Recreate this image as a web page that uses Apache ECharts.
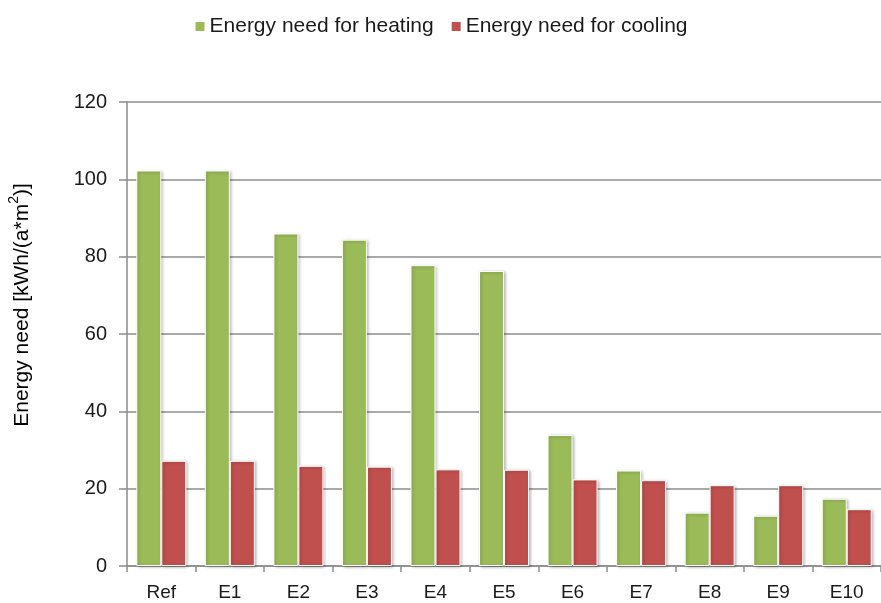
<!DOCTYPE html>
<html>
<head>
<meta charset="utf-8">
<script src="https://cdn.jsdelivr.net/npm/echarts@6/dist/echarts.min.js"></script>
<style>
  html, body { margin: 0; padding: 0; background: #fff; }
  #chart { width: 881px; height: 603px; }
</style>
</head>
<body>
<div id="chart"></div>
<script>
// Building variants
const categories = ['Ref', 'E1', 'E2', 'E3', 'E4', 'E5', 'E6', 'E7', 'E8', 'E9', 'E10'];
// Energy need in kWh/(a*m²)
const heating = [102.3, 102.3, 86.0, 84.4, 77.8, 76.3, 33.9, 24.7, 13.8, 13.0, 17.4];
const cooling = [27.2, 27.2, 25.9, 25.7, 25.0, 24.9, 22.4, 22.2, 20.9, 20.9, 14.7];
const yTicks = { min: 0, max: 120, interval: 20 };

const FONT = '"Liberation Sans", Arial, sans-serif';
const AXIS_GRAY = '#8c8c8c';
const TEXT = '#1a1a1a';

const barStyle = (color) => ({
  color: color,
  borderColor: '#ffffff',
  borderWidth: 1,
  shadowColor: 'rgba(0,0,0,0.28)',
  shadowBlur: 3,
  shadowOffsetX: 1.5,
  shadowOffsetY: 1
});

const chart = echarts.init(document.getElementById('chart'), null, { renderer: 'canvas' });
chart.setOption({
  animation: false,
  backgroundColor: '#ffffff',
  textStyle: { fontFamily: FONT },
  legend: {
    top: 11,
    left: 'center',
    itemWidth: 11,
    itemHeight: 11,
    itemGap: 16,
    icon: 'rect',
    textStyle: { fontFamily: FONT, fontSize: 21, color: TEXT, padding: [0, 0, 0, -1] },
    data: ['Energy need for heating', 'Energy need for cooling']
  },
  // rotated y-axis title with a raised "2"
  graphic: [{
    type: 'text',
    x: 20,
    y: 305,
    rotation: Math.PI / 2,
    style: {
      text: '{a|Energy need [kWh/(a*m}{s|2}{a|)]}',
      align: 'center',
      verticalAlign: 'middle',
      rich: {
        a: { fontFamily: FONT, fontSize: 21, color: TEXT, lineHeight: 25, verticalAlign: 'bottom' },
        s: { fontFamily: FONT, fontSize: 14, color: TEXT, lineHeight: 25, verticalAlign: 'top', padding: [0, 0, 10, 0] }
      }
    }
  }],
  grid: { left: 127, right: -5, top: 102, bottom: 37, containLabel: false },
  xAxis: {
    type: 'category',
    data: categories,
    axisLine: { lineStyle: { color: AXIS_GRAY, width: 1.5 } },
    axisTick: { show: true, length: 6, lineStyle: { color: AXIS_GRAY, width: 1.5 } },
    axisLabel: { fontFamily: FONT, fontSize: 19, color: TEXT, margin: 17 }
  },
  yAxis: {
    type: 'value',
    min: yTicks.min,
    max: yTicks.max,
    interval: yTicks.interval,
    axisLine: { show: true, lineStyle: { color: AXIS_GRAY, width: 1.5 } },
    axisTick: { show: true, length: 8, inside: false, lineStyle: { color: AXIS_GRAY, width: 1.5 } },
    axisLabel: { fontFamily: FONT, fontSize: 20, color: TEXT, margin: 20 },
    splitLine: { show: true, lineStyle: { color: AXIS_GRAY, width: 1.5 } }
  },
  series: [
    {
      name: 'Energy need for heating',
      type: 'bar',
      data: heating,
      barWidth: 25,
      barGap: '0%',
      itemStyle: barStyle('#9bbb59')
    },
    {
      name: 'Energy need for cooling',
      type: 'bar',
      data: cooling,
      barWidth: 25,
      barGap: '0%',
      itemStyle: barStyle('#c0504d')
    }
  ]
});
</script>
</body>
</html>
